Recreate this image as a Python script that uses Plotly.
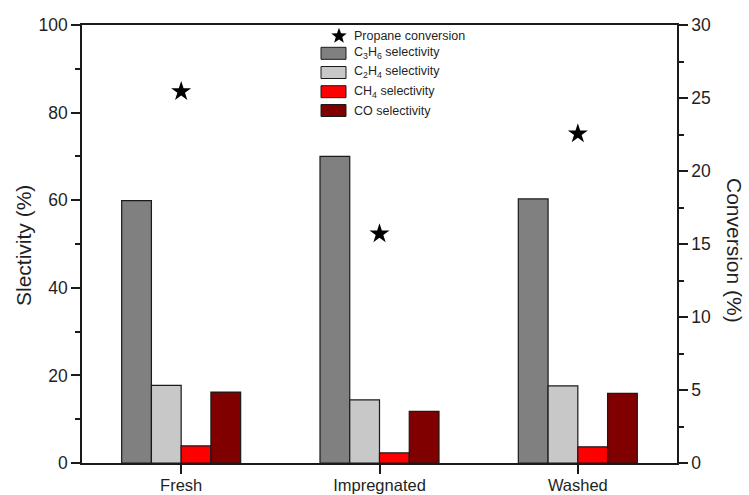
import math
import plotly.graph_objects as go

categories = ["Fresh", "Impregnated", "Washed"]
c3h6_sel = [59.9, 70.0, 60.3]
c2h4_sel = [17.7, 14.4, 17.6]
ch4_sel = [3.9, 2.3, 3.7]
co_sel = [16.2, 11.8, 15.9]
propane_conv = [25.45, 15.7, 22.55]

series_names = ["C<sub>3</sub>H<sub>6</sub> selectivity", "C<sub>2</sub>H<sub>4</sub> selectivity",
                "CH<sub>4</sub> selectivity", "CO selectivity"]
series_values = [c3h6_sel, c2h4_sel, ch4_sel, co_sel]
series_colors = ["#808080", "#c8c8c8", "#ff0000", "#800000"]

FONT = "Liberation Sans, Arial, sans-serif"
TXT = "#1f1f1f"

fig = go.Figure()
for name, vals, col in zip(series_names, series_values, series_colors):
    fig.add_trace(go.Bar(x=categories, y=vals, name=name, marker=dict(color=col, line=dict(color="#1a1a1a", width=1.2)),
                         showlegend=False))

fig.add_trace(go.Scatter(x=categories, y=propane_conv, yaxis="y2", mode="markers", name="Propane conversion",
                         marker=dict(symbol="star", size=15, color="black", line=dict(width=0)), showlegend=False))

# plot area in pixels: x 82..677, y 25..463
W, H = 749, 495
L, R, T, B = 82, 677, 25, 463
def px(x):
    return (x - L) / (R - L)
def py(y):
    return (B - y) / (B - T)

shapes = []
annotations = []

# manual legend
legend_rows_y = [36, 53.3, 72.5, 91.7, 110.5]
legend_labels = ["Propane conversion"] + series_names
pts = []
Ro, Ri = 8.2, 3.4
for k in range(10):
    ang = math.pi / 2 + k * math.pi / 5
    r = Ro if k % 2 == 0 else Ri
    pts.append((r * math.cos(ang), r * math.sin(ang)))
path = "M" + "L".join(f"{a:.2f},{b:.2f}" for a, b in pts) + "Z"
shapes.append(dict(type="path", xref="paper", yref="paper", xsizemode="pixel", ysizemode="pixel",
                   xanchor=px(339), yanchor=py(legend_rows_y[0]), path=path,
                   fillcolor="black", line=dict(width=0)))
for yrow, col in zip(legend_rows_y[1:], series_colors):
    shapes.append(dict(type="rect", xref="paper", yref="paper", x0=px(321), x1=px(346),
                       y0=py(yrow + 6), y1=py(yrow - 6), fillcolor=col,
                       line=dict(color="#1a1a1a", width=1)))
for yrow, lab in zip(legend_rows_y, legend_labels):
    annotations.append(dict(xref="paper", yref="paper", x=px(352), y=py(yrow), text=lab, showarrow=False,
                            xanchor="left", yanchor="middle", font=dict(family=FONT, size=12.5, color=TXT)))

annotations.append(dict(xref="paper", yref="paper", x=px(24), y=py(246), text="Slectivity (%)", textangle=-90,
                        showarrow=False, xanchor="center", yanchor="middle", font=dict(family=FONT, size=21, color=TXT)))
annotations.append(dict(xref="paper", yref="paper", x=px(735), y=py(250), text="Conversion (%)", textangle=90,
                        showarrow=False, xanchor="center", yanchor="middle", font=dict(family=FONT, size=21, color=TXT)))

axis_common = dict(showline=True, linecolor="#1a1a1a", linewidth=1.5, ticks="outside", ticklen=9, tickwidth=1.5,
                   tickcolor="#1a1a1a", showgrid=False, zeroline=False, automargin=False)
yfont = dict(family=FONT, size=17.5, color=TXT)

fig.update_layout(
    width=W, height=H,
    margin=dict(l=L, r=W - R, t=T, b=H - B, pad=0),
    paper_bgcolor="white", plot_bgcolor="white",
    barmode="group", bargap=0.4, bargroupgap=0,
    showlegend=False,
    xaxis=dict(type="category", range=[-0.5, 2.5], mirror=True, ticklabelstandoff=-3,
               tickfont=dict(family=FONT, size=16.5, color=TXT), **axis_common),
    yaxis=dict(range=[0, 100], dtick=20, tickfont=yfont, **axis_common,
               minor=dict(dtick=10, ticks="outside", ticklen=5, tickwidth=1.5, tickcolor="#1a1a1a", showgrid=False)),
    yaxis2=dict(range=[0, 30], dtick=5, overlaying="y", side="right", tickfont=yfont, **axis_common,
                minor=dict(dtick=2.5, ticks="outside", ticklen=5, tickwidth=1.5, tickcolor="#1a1a1a", showgrid=False)),
    shapes=shapes, annotations=annotations,
)

fig.write_html("out.html")
